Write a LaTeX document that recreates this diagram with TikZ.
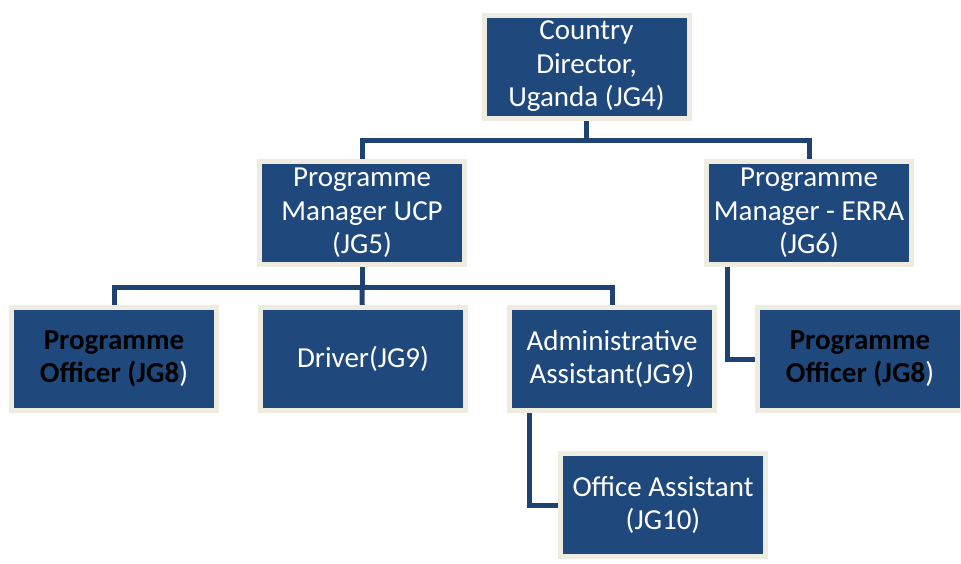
\documentclass[tikz,border=0pt]{standalone}
\usepackage{fontspec}
\setmainfont{Carlito}
\definecolor{boxfill}{RGB}{31,73,125}
\definecolor{boxedge}{RGB}{238,236,225}
\definecolor{linkcol}{RGB}{30,66,114}
\pgfdeclarelayer{bg}
\pgfsetlayers{bg,main}
\begin{document}
\begin{tikzpicture}[x=1pt,y=-1pt,
  orgbox/.style={rectangle, draw=boxedge, line width=5pt, fill=boxfill,
    minimum width=205pt, minimum height=103pt, inner sep=0pt,
    text=white, align=center, font=\fontsize{29}{33.5}\selectfont},
  link/.style={draw=linkcol, line width=5pt, line join=miter}]
\useasboundingbox (0,0) rectangle (961,563);
\node[orgbox] (cd)  at (586.5,66.5) {Country\\Director,\\Uganda (JG4)};
\node[orgbox] (pmu) at (362,213) {Programme\\Manager UCP\\(JG5)};
\node[orgbox] (pme) at (809,213) {Programme\\Manager - ERRA\\(JG6)};
\node[orgbox] (po1) at (114,359) {\textbf{\textcolor{black}{Programme}}\\\textbf{\textcolor{black}{Officer (JG8}})};
\node[orgbox] (drv) at (363,359) {Driver(JG9)};
\node[orgbox] (adm) at (612,359) {Administrative\\Assistant(JG9)};
\node[orgbox] (po2) at (860,359) {\textbf{\textcolor{black}{Programme}}\\\textbf{\textcolor{black}{Officer (JG8}})};
\node[orgbox] (oa)  at (663,505) {Office Assistant\\(JG10)};
\coordinate (j1) at (586.5,140);
\coordinate (j2) at (363,287);
\begin{pgfonlayer}{bg}
\draw[link] (cd.center) -- (cd.center |- j1) -| (pmu.center);
\draw[link] (cd.center |- j1) -| (pme.center);
\draw[link] (pmu.center) -- (pmu.center |- j2) -| (po1.center);
\draw[link] (pmu.center |- j2) -| (adm.center);
\draw[link] (pmu.center |- j2) -- (drv.center);
\draw[link] ([xshift=-82pt]pme.center) |- (po2.center);
\draw[link] ([xshift=-83pt]adm.center) |- (oa.center);
\end{pgfonlayer}
\end{tikzpicture}
\end{document}
